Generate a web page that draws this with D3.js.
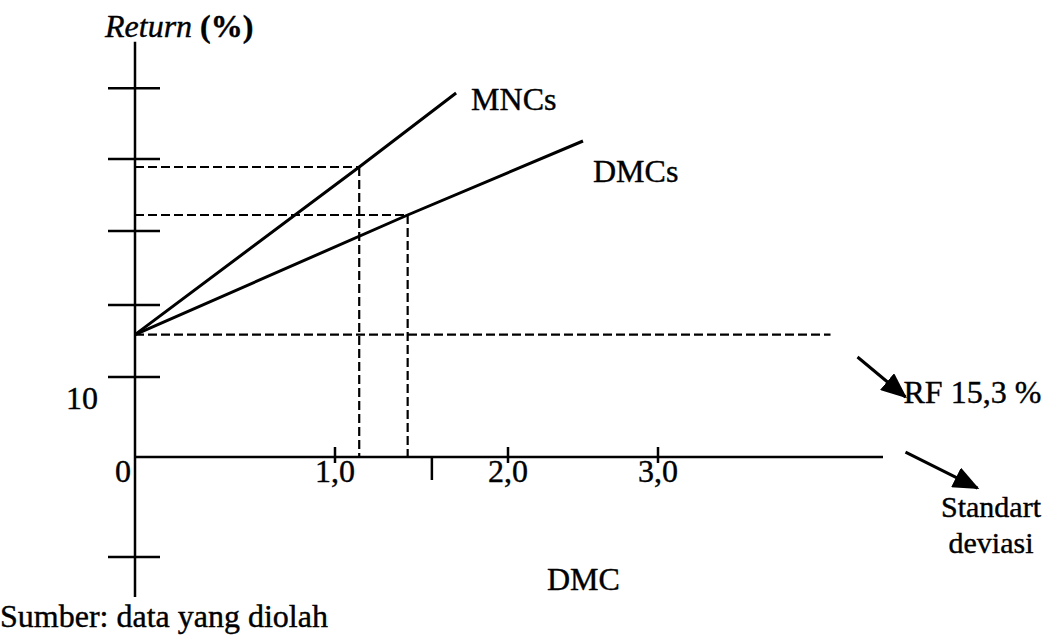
<!DOCTYPE html>
<html>
<head>
<meta charset="utf-8">
<script src="https://cdn.jsdelivr.net/npm/d3@7"></script>
<style>
  body { margin: 0; background: #fff; }
  text { font-family: "Liberation Serif", "Times New Roman", serif; fill: #000; stroke: #000; stroke-width: 0.4px; }
</style>
</head>
<body>
<svg id="chart" width="1048" height="639"></svg>
<script>
// ---- data ----
const riskFree = 15.3;                       // RF 15,3 %
const xTickValues = [1, 1.56, 2, 3];
const xTickLabels = ["1,0", "", "2,0", "3,0"];
const yTickValues = [-12.5, 10, 19, 28.25, 37.25, 46.1];
const yTickLabels = ["", "10", "", "", "", ""];
const seriesNames = ["MNCs", "DMCs"];
const mncX = [0, 1.14, 1.7];
const mncY = [15.3, 36.25, 45.5];
const dmcX = [0, 1.42, 2.5];
const dmcY = [15.3, 30.25, 39.5];
const guideX = [1.14, 1.42];                 // portfolio points (std dev)
const guideY = [36.25, 30.25];               // portfolio points (return)
const rfLineEnd = 4.15;
const xAxisEnd = 4.5;
const yAxisTop = 51.9, yAxisBottom = -17.5;

const svg = d3.select("#chart");
const x = d3.scaleLinear().domain([0, 1, 2, 3]).range([135, 335, 508, 658]);
const y = d3.scaleLinear().domain([0, 10]).range([457, 377]);

const FS = 32;

// arrow marker
svg.append("defs").append("marker")
  .attr("id", "arrow").attr("markerUnits", "userSpaceOnUse")
  .attr("markerWidth", 26).attr("markerHeight", 22)
  .attr("refX", 24).attr("refY", 11).attr("orient", "auto")
  .append("path").attr("d", "M0,0 L26,11 L0,22 Z").attr("fill", "#000");

// y axis line
svg.append("line")
  .attr("x1", x(0)).attr("x2", x(0))
  .attr("y1", y(yAxisTop)).attr("y2", y(yAxisBottom))
  .attr("stroke", "#000").attr("stroke-width", 2.5);
// y ticks (crossing the axis)
svg.selectAll(".ytick").data(yTickValues).enter().append("line")
  .attr("x1", x(0) - 27).attr("x2", x(0) + 25)
  .attr("y1", d => y(d)).attr("y2", d => y(d))
  .attr("stroke", "#000").attr("stroke-width", 2.5);
svg.selectAll(".ylab").data(yTickValues.filter((d, i) => yTickLabels[i])).enter().append("text")
  .attr("x", x(0) - 37).attr("y", d => y(d) + 32)
  .attr("text-anchor", "end").attr("font-size", FS)
  .text(d => yTickLabels[yTickValues.indexOf(d)]);

// x axis line
svg.append("line")
  .attr("x1", x(0)).attr("x2", x(xAxisEnd))
  .attr("y1", y(0)).attr("y2", y(0))
  .attr("stroke", "#000").attr("stroke-width", 2.5);
svg.selectAll(".xtick").data(xTickValues).enter().append("line")
  .attr("x1", d => x(d)).attr("x2", d => x(d))
  .attr("y1", (d, i) => xTickLabels[i] ? y(0) - 10 : y(0))
  .attr("y2", (d, i) => xTickLabels[i] ? y(0) + 6 : y(0) + 23)
  .attr("stroke", "#000").attr("stroke-width", 2.5);
svg.selectAll(".xlab").data(xTickValues).enter().append("text")
  .attr("x", d => x(d)).attr("y", y(0) + 25)
  .attr("text-anchor", "middle").attr("font-size", FS)
  .text((d, i) => xTickLabels[i]);
// origin label
svg.append("text").attr("x", x(0) - 4).attr("y", y(0) + 25)
  .attr("text-anchor", "end").attr("font-size", FS).text("0");

// dashed guides
const dash = "9,4";
svg.append("line")
  .attr("x1", x(0)).attr("x2", x(rfLineEnd))
  .attr("y1", y(riskFree)).attr("y2", y(riskFree))
  .attr("stroke", "#000").attr("stroke-width", 2.2).attr("stroke-dasharray", dash);
guideX.forEach((gx, i) => {
  svg.append("line")
    .attr("x1", x(0)).attr("x2", x(gx))
    .attr("y1", y(guideY[i])).attr("y2", y(guideY[i]))
    .attr("stroke", "#000").attr("stroke-width", 2.2).attr("stroke-dasharray", dash);
  svg.append("line")
    .attr("x1", x(gx)).attr("x2", x(gx))
    .attr("y1", y(guideY[i])).attr("y2", y(0))
    .attr("stroke", "#000").attr("stroke-width", 2.2).attr("stroke-dasharray", dash);
});

// lines
const line = d3.line().x(d => x(d[0])).y(d => y(d[1]));
const series = [d3.zip(mncX, mncY), d3.zip(dmcX, dmcY)];
series.forEach(s => {
  svg.append("path").datum(s).attr("d", line)
    .attr("fill", "none").attr("stroke", "#000").attr("stroke-width", 3);
});
// series labels
svg.append("text").attr("x", x(1.7) + 15).attr("y", y(45.5) + 17)
  .attr("font-size", FS).text(seriesNames[0]);
svg.append("text").attr("x", x(2.5) + 10).attr("y", y(39.5) + 41)
  .attr("font-size", FS).text(seriesNames[1]);

// title
svg.append("text").attr("x", 105).attr("y", 37).attr("font-size", FS)
  .call(t => {
    t.append("tspan").attr("font-style", "italic").text("Return");
    t.append("tspan").attr("font-weight", "bold").text(" (%)");
  });

// annotation arrows
svg.append("line")
  .attr("x1", x(4.33)).attr("y1", y(12.5))
  .attr("x2", x(4.65)).attr("y2", y(7.5))
  .attr("stroke", "#000").attr("stroke-width", 3).attr("marker-end", "url(#arrow)");
svg.append("text").attr("x", x(4.65) - 2).attr("y", y(6.75))
  .attr("font-size", FS).text("RF 15,3 %");
svg.append("line")
  .attr("x1", x(4.65)).attr("y1", y(0.6))
  .attr("x2", x(5.13)).attr("y2", y(-3.9))
  .attr("stroke", "#000").attr("stroke-width", 3).attr("marker-end", "url(#arrow)");
svg.append("text").attr("x", 991).attr("y", 517).attr("text-anchor", "middle")
  .attr("font-size", 30).text("Standart");
svg.append("text").attr("x", 991).attr("y", 553).attr("text-anchor", "middle")
  .attr("font-size", 30).text("deviasi");

svg.append("text").attr("x", 547).attr("y", 590).attr("font-size", FS).text("DMC");
svg.append("text").attr("x", 0).attr("y", 627).attr("font-size", FS).text("Sumber: data yang diolah");
</script>
</body>
</html>
